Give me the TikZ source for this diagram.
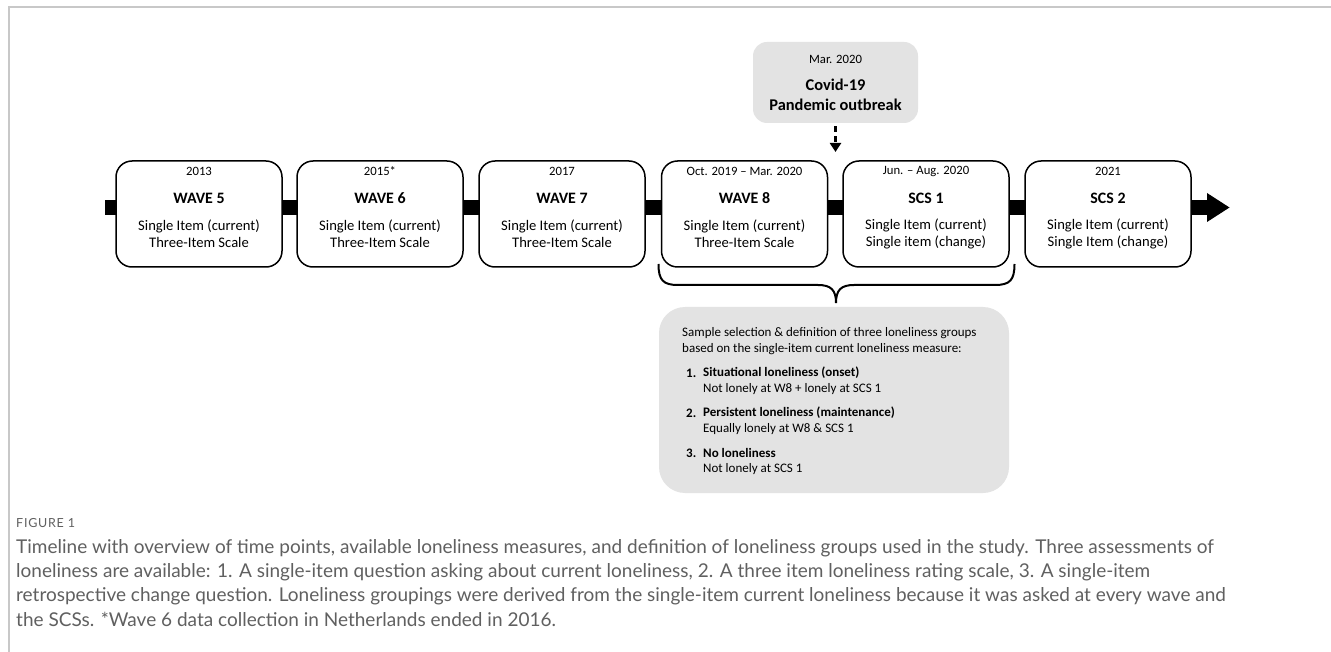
\documentclass[tikz,border=0pt]{standalone}
\usepackage{fontspec}
\setmainfont{Carlito}
\newfontfamily\capfont{Lato}
\newfontfamily\figfont[LetterSpace=6]{Lato}
\usetikzlibrary{arrows.meta,calc}
\definecolor{boxgray}{HTML}{E3E3E3}
\definecolor{framegray}{HTML}{C8C8C8}
\definecolor{capgray}{HTML}{606060}
\tikzset{
  wavebox/.style={draw=black, line width=1.5pt, fill=white, rounded corners=16pt, minimum width=166pt, minimum height=106pt, inner sep=0pt},
  graybox/.style={fill=boxgray, rounded corners=#1, inner sep=0pt},
  yeartxt/.style={font=\fontsize{12.7pt}{15pt}\selectfont, inner sep=0pt},
  titletxt/.style={font=\fontsize{15.9pt}{18pt}\selectfont\bfseries, inner sep=0pt},
  bodytxt/.style={font=\fontsize{14.6pt}{17pt}\selectfont, inner sep=0pt, align=center},
  listtxt/.style={font=\fontsize{13pt}{16pt}\selectfont, inner sep=0pt, anchor=west},
  listbold/.style={listtxt, font=\fontsize{13pt}{16pt}\selectfont\bfseries},
  captxt/.style={font=\capfont\fontsize{19pt}{22pt}\selectfont, text=capgray, inner sep=0pt, anchor=west},
  timebar/.style={line width=15pt, black},
  bracepath/.style={line width=2pt, black},
}
\newcommand\WaveBox[6]{%
  \node[wavebox] (#1) at (#2,214) {};
  \node[yeartxt] (#1y) at (#2,171) {#3};
  \node[titletxt] (#1t) at (#2,198) {#4};
  \node[bodytxt] (#1b) at (#2,233.5) {#5\\#6};
}
\begin{document}
\begin{tikzpicture}[x=1pt,y=-1pt]
\useasboundingbox (0,0) rectangle (1331,652);
\fill[white] (0,0) rectangle (1331,652);
% frame
\draw[framegray, line width=2pt] (8.5,652) -- (8.5,7.5) -- (1331,7.5);
% timeline bar
\coordinate (barstart) at (105,207.5);
\coordinate (barend) at (1208,207.5);
\draw[timebar] (barstart) -- (barend);
\fill[black] (1207,193) -- (1229.5,207.5) -- (1207,222) -- cycle;
% boxes
\WaveBox{w5}{199}{2013}{WAVE 5}{Single Item (current)}{Three-Item Scale}
\WaveBox{w6}{380}{2015*}{WAVE 6}{Single Item (current)}{Three-Item Scale}
\WaveBox{w7}{562}{2017}{WAVE 7}{Single Item (current)}{Three-Item Scale}
\WaveBox{w8}{744.5}{Oct. 2019 -- Mar. 2020}{WAVE 8}{Single Item (current)}{Three-Item Scale}
\WaveBox{s1}{926}{Jun. -- Aug. 2020}{SCS 1}{Single Item (current)}{Single item (change)}
\WaveBox{s2}{1108}{2021}{SCS 2}{Single Item (current)}{Single Item (change)}
% covid box
\node[graybox=14pt, minimum width=165pt, minimum height=81pt] (covid) at (835.5,82.5) {};
\node[yeartxt] (covy) at (835.5,59) {Mar. 2020};
\node[titletxt, align=center, font=\fontsize{16.4pt}{20pt}\selectfont\bfseries] (covt) at (835.5,95) {Covid-19\\Pandemic outbreak};
\coordinate (covtip) at (835.5,152);
\draw[line width=2.6pt, dash pattern=on 6pt off 4pt, -{Triangle[length=9pt,width=11pt]}] ($(covid.south)+(0,3)$) -- (covtip);
% brace
\coordinate (bl) at (658.5,264);
\coordinate (br) at (1014.5,264);
\coordinate (bm) at (836,303);
\draw[bracepath] (bl) .. controls (658.5,280) and (663,285) .. (678,285)
  -- (818,285) .. controls (831,285) and (836,290) .. (bm)
  .. controls (836,290) and (841,285) .. (854,285)
  -- (995,285) .. controls (1010,285) and (1014.5,280) .. (br);
% bottom box
\node[graybox=26pt, minimum width=350pt, minimum height=186pt] (groups) at (834,400) {};
\node[listtxt] (g0a) at (682,333) {Sample selection \& definition of three loneliness groups};
\node[listtxt] (g0b) at (682,349) {based on the single-item current loneliness measure:};
\node[listbold] (g1n) at (686,373) {1.};
\node[listbold] (g1t) at (703,373) {Situational loneliness (onset)};
\node[listtxt] (g1d) at (703,389) {Not lonely at W8 + lonely at SCS 1};
\node[listbold] (g2n) at (686,413) {2.};
\node[listbold] (g2t) at (703,413) {Persistent loneliness (maintenance)};
\node[listtxt] (g2d) at (703,429) {Equally lonely at W8 \& SCS 1};
\node[listbold] (g3n) at (686,453) {3.};
\node[listbold] (g3t) at (703,453) {No loneliness};
\node[listtxt] (g3d) at (703,469) {Not lonely at SCS 1};
% caption
\node[captxt, font=\figfont\fontsize{12.5pt}{14pt}\selectfont, text=capgray] (fig) at (16,523) {FIGURE 1};
\node[captxt] (c1) at (16,548) {Timeline with overview of time points, available loneliness measures, and definition of loneliness groups used in the study. Three assessments of};
\node[captxt] (c2) at (16,572) {loneliness are available: 1. A single-item question asking about current loneliness, 2. A three item loneliness rating scale, 3. A single-item};
\node[captxt] (c3) at (16,596) {retrospective change question. Loneliness groupings were derived from the single-item current loneliness because it was asked at every wave and};
\node[captxt] (c4) at (16,619) {the SCSs. *Wave 6 data collection in Netherlands ended in 2016.};
\end{tikzpicture}
\end{document}
